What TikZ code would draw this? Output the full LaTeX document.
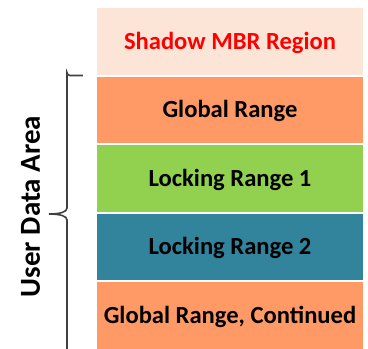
\documentclass[tikz,border=0pt]{standalone}
\usepackage{fontspec}
\setmainfont{Carlito}
\begin{document}
\begin{tikzpicture}[x=1pt,y=-1pt,
  band/.style={draw=white, line width=2pt, minimum width=268pt, minimum height=68.5pt, inner sep=0pt,
    text height=15.8pt, text depth=0pt,
    font=\fontsize{24.6}{28}\selectfont\bfseries, text=black},
  bracestyle/.style={draw=black!75, line width=1.6pt}]
\useasboundingbox (0,0) rectangle (368,349);
\definecolor{shadowfill}{HTML}{FCE4D6}
\definecolor{globalfill}{HTML}{FF9966}
\definecolor{lockgreen}{HTML}{92D050}
\definecolor{lockteal}{HTML}{31849B}
\node[band, fill=shadowfill, text=red] (shadow) at (230,41.25) {Shadow MBR Region};
\node[band, fill=globalfill] (global) at (230,109.75) {Global Range};
\node[band, fill=lockgreen] (lock1) at (230,178.25) {Locking Range 1};
\node[band, fill=lockteal] (lock2) at (230,246.75) {Locking Range 2};
\node[band, fill=globalfill] (globalc) at (230,315.25) {Global Range, Continued};
\draw[bracestyle] (83,75.5) -- (70,75.5) arc[start angle=90, end angle=180, radius=3] -- (67,208)
  .. controls (67,212) and (60,214) .. (49,214)
  .. controls (60,214) and (67,216) .. (67,220) -- (67,352);
\node[rotate=90, anchor=base, font=\fontsize{29}{34}\selectfont\bfseries] (uda) at (40,206.5) {User Data Area};
\end{tikzpicture}
\end{document}
